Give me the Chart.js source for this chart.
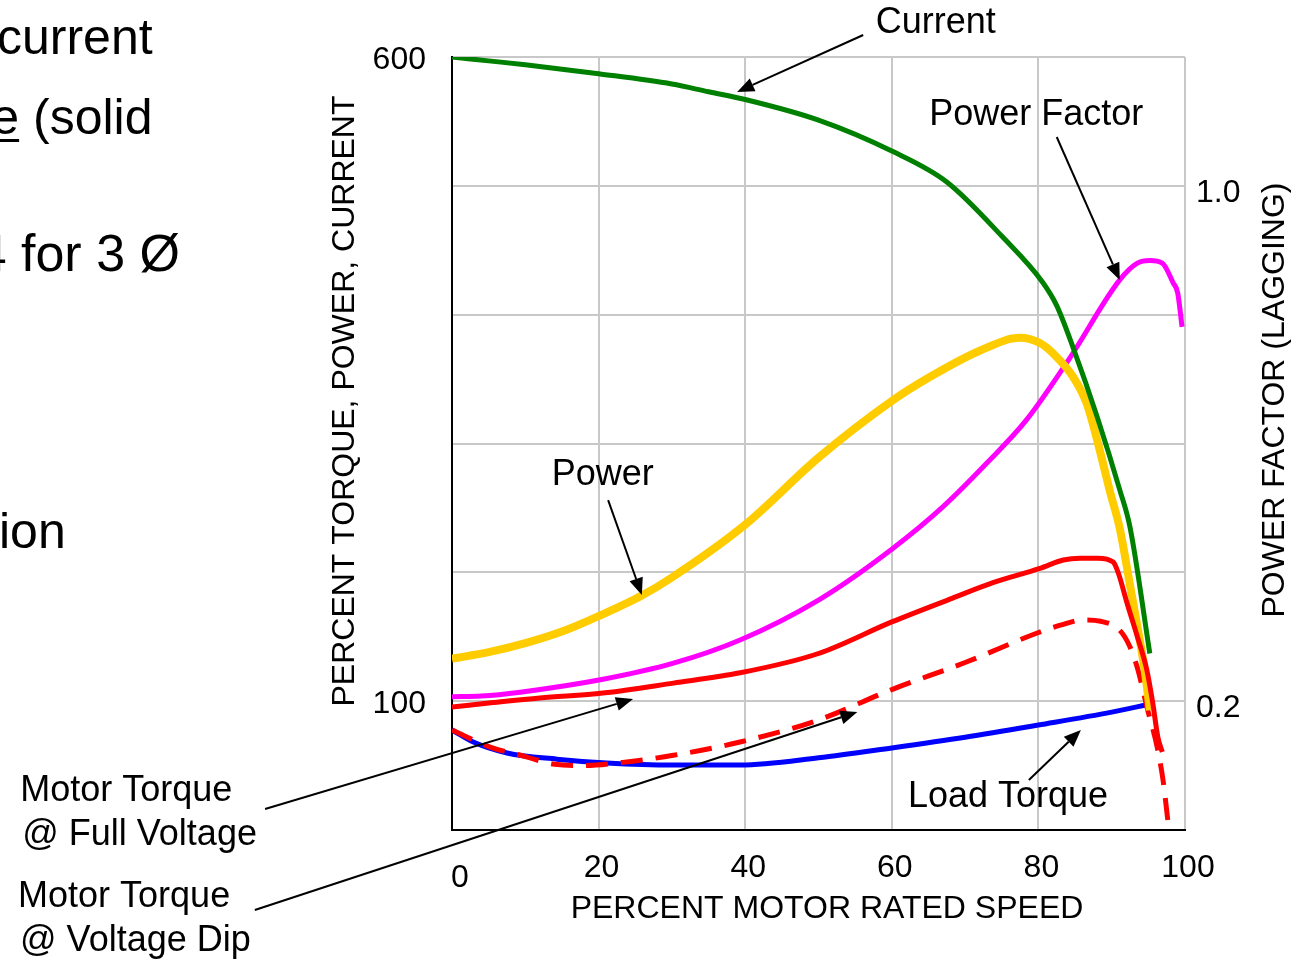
<!DOCTYPE html>
<html>
<head>
<meta charset="utf-8">
<script src="https://cdn.jsdelivr.net/npm/chart.js@4"></script>
<style>
  html, body { margin: 0; padding: 0; background: #fff; overflow: hidden; }
  #wrap { position: relative; width: 1314px; height: 960px; }
</style>
</head>
<body>
<div id="wrap"><canvas id="myChart"></canvas></div>
<script>
// percent motor rated speed for each curve, with the values
const speedCurrent = [0, 5, 10, 20, 30, 35, 40, 50, 60, 67.5, 75, 80.6, 82.5, 84.7, 88, 91.1, 92.5, 95.2];
const current = [600, 597, 594, 587, 579, 573, 567, 551, 527, 503, 461, 425, 407, 375, 321, 264, 235, 137];

const speedPower = [0, 5, 10, 15, 20, 25.9, 30, 40, 50, 60, 65, 72, 77.5, 80.2, 82, 84.7, 86.6, 88, 89.8, 91.1, 92.5, 93.5, 94.5, 95.2];
const power = [133, 138, 145, 154, 166, 182, 196, 237, 289, 333, 351, 372, 382, 378, 370, 352, 331, 303, 262, 234, 190, 158, 124, 93];

const speedPF = [0, 4, 9.3, 20.6, 30.2, 39.3, 50, 60, 67, 73, 78.4, 84.3, 91.1, 93.5, 95.2, 96.9, 98.4, 99, 99.6];
const powerFactor = [0.207, 0.208, 0.214, 0.234, 0.259, 0.295, 0.357, 0.436, 0.502, 0.57, 0.637, 0.733, 0.854, 0.88, 0.884, 0.88, 0.849, 0.834, 0.781];

const speedFull = [0, 5, 12, 20.6, 30.2, 39.3, 50, 60, 68.3, 73.8, 80.2, 83.4, 85.7, 88.1, 90.2, 90.9, 92.1, 93.5, 94.8, 95.6, 96.3, 96.9];
const torqueFull = [95.5, 98.5, 102.5, 106.3, 114, 122, 137, 161.5, 180, 192, 203, 209.6, 211, 211, 208, 199.5, 176, 150, 124, 98.6, 72, 60.5];

const speedDip = [0, 5.2, 10, 14, 18, 23.3, 30.2, 39.3, 50, 60, 70, 80.2, 83, 86.1, 88.5, 91.1, 92.5, 93.6, 94.8, 96.2, 97, 97.7];
const torqueDip = [77.6, 64.4, 57, 51, 50, 52.5, 58, 68.3, 85.4, 109, 130, 153.7, 159, 163, 162, 155, 142, 124, 95.5, 64.4, 38.8, 5.4];

const speedLoad = [0, 2.9, 7.5, 14.3, 21.1, 30.2, 39.3, 50, 60, 70, 80, 90, 95.4];
const torqueLoad = [77.6, 68.3, 59.8, 55, 52, 50.4, 50.4, 56, 63.7, 72, 81.5, 91.5, 98];

// tick labels that are shown
const leftTicks = [100, 600];
const rightTicks = [0.2, 1.0];

// callouts, in data units of the speed axis and the left axis
const callouts = [
	{ lines: ["Current"], at: [57.8, 626.4], from: [56.1, 617.1], to: [38.9, 572.9] },
	{ lines: ["Power Factor"], at: [65.1, 555], from: [82.5, 537.9], to: [91.1, 426.9] },
	{ lines: ["Power"], at: [13.6, 275.6], from: [21.3, 256.1], to: [25.9, 182.4] },
	{ lines: ["Motor Torque", "@ Full Voltage"], at: [-58.9, 30.3], from: [-25.5, 16.3], to: [24.7, 101.7] },
	{ lines: ["Motor Torque", "@ Voltage Dip"], at: [-59.2, -52], from: [-26.9, -62.1], to: [55.3, 91.6] },
	{ lines: ["Load Torque"], at: [62.2, 25.6], from: [78.7, 38.8], to: [85.8, 77.6] },
];

const FONT = '"Liberation Sans", Arial, sans-serif';
Chart.defaults.font.family = FONT;
Chart.defaults.color = "#000";

function pairs(xs, ys) {
	return xs.map((x, i) => ({ x: x, y: ys[i] }));
}

function drawArrow(ctx, a, b) {
	const ang = Math.atan2(b[1] - a[1], b[0] - a[0]);
	const len = 17, half = 7;
	const bx = b[0] - len * Math.cos(ang);
	const by = b[1] - len * Math.sin(ang);
	ctx.beginPath();
	ctx.moveTo(a[0], a[1]);
	ctx.lineTo(bx, by);
	ctx.stroke();
	ctx.beginPath();
	ctx.moveTo(b[0], b[1]);
	ctx.lineTo(bx + half * Math.sin(ang), by - half * Math.cos(ang));
	ctx.lineTo(bx - half * Math.sin(ang), by + half * Math.cos(ang));
	ctx.closePath();
	ctx.fill();
}

const extras = {
	id: "extras",
	afterDraw(chart) {
		const ctx = chart.ctx;
		const sx = chart.scales.x, sy = chart.scales.y;
		const p = (v) => [sx.getPixelForValue(v[0]), sy.getPixelForValue(v[1])];
		ctx.save();
		ctx.fillStyle = "#000";
		ctx.strokeStyle = "#000";
		ctx.lineWidth = 2;

		// callouts
		ctx.font = "36px " + FONT;
		ctx.textAlign = "left";
		ctx.textBaseline = "middle";
		callouts.forEach((c) => {
			const t = p(c.at);
			c.lines.forEach((line, i) => ctx.fillText(line, t[0] + (i ? 2 : 0), t[1] + i * 44));
			drawArrow(ctx, p(c.from), p(c.to));
		});

		// axis titles
		ctx.font = "32px " + FONT;
		ctx.textAlign = "center";
		ctx.fillText("PERCENT MOTOR RATED SPEED", 827, 909);
		ctx.save();
		ctx.translate(345, 401);
		ctx.rotate(-Math.PI / 2);
		ctx.fillText("PERCENT TORQUE, POWER, CURRENT", 0, 0);
		ctx.restore();
		ctx.save();
		ctx.translate(1275, 400);
		ctx.rotate(-Math.PI / 2);
		ctx.fillText("POWER FACTOR (LAGGING)", 0, 0);
		ctx.restore();

		// the zero of the speed axis sits lower than the other labels
		ctx.font = "32px " + FONT;
		ctx.fillText("0", sx.getPixelForValue(0) + 8, 878);

		// slide text cut off at the left edge
		ctx.font = "50px " + FONT;
		ctx.textAlign = "left";
		ctx.textBaseline = "alphabetic";
		ctx.fillText("current", -3, 54);
		const ex = 33 - ctx.measureText("e ").width;
		ctx.fillText("e (solid", ex, 134);
		ctx.fillRect(ex, 139, ctx.measureText("e").width, 3);
		ctx.font = "52px " + FONT;
		ctx.fillText("4 for 3 Ø", 21 - ctx.measureText("4 ").width, 271);
		ctx.font = "50px " + FONT;
		ctx.fillText("ion", -1, 548);
		ctx.restore();
	},
};

const gridColor = "#c8c8c8";

new Chart(document.getElementById("myChart"), {
	type: "line",
	data: {
		datasets: [
			{ label: "Current", data: pairs(speedCurrent, current), borderColor: "#008000", borderWidth: 5, yAxisID: "y", order: 1 },
			{ label: "Motor Torque @ Full Voltage", data: pairs(speedFull, torqueFull), borderColor: "#ff0000", borderWidth: 5, yAxisID: "y", order: 2 },
			{ label: "Power", data: pairs(speedPower, power), borderColor: "#ffcc00", borderWidth: 8, yAxisID: "y", order: 3 },
			{ label: "Power Factor", data: pairs(speedPF, powerFactor), borderColor: "#ff00ff", borderWidth: 5, yAxisID: "y1", order: 4 },
			{ label: "Motor Torque @ Voltage Dip", data: pairs(speedDip, torqueDip), borderColor: "#ff0000", borderWidth: 5, borderDash: [22, 13], yAxisID: "y", order: 5 },
			{ label: "Load Torque", data: pairs(speedLoad, torqueLoad), borderColor: "#0000ff", borderWidth: 5, yAxisID: "y", order: 6 },
		],
	},
	options: {
		responsive: true,
		maintainAspectRatio: false,
		animation: false,
		layout: { padding: { top: 57, left: 0, right: 0, bottom: 0 } },
		elements: {
			point: { radius: 0 },
			line: { cubicInterpolationMode: "monotone", fill: false },
		},
		plugins: {
			legend: { display: false },
			tooltip: { enabled: false },
		},
		scales: {
			x: {
				type: "linear",
				min: 0,
				max: 100,
				afterFit: (s) => { s.height = 130; },
				ticks: {
					stepSize: 20,
					padding: 19,
					labelOffset: 3,
					font: { size: 32 },
					callback: (v) => (v === 0 ? "" : v),
				},
				grid: { color: gridColor, lineWidth: 2, drawTicks: false },
				border: { display: true, color: "#000", width: 2 },
			},
			y: {
				position: "left",
				min: 0,
				max: 600,
				afterFit: (s) => { s.width = 452; },
				ticks: {
					stepSize: 100,
					padding: 26,
					labelOffset: 3,
					font: { size: 32 },
					callback: (v) => (leftTicks.includes(v) ? v : ""),
				},
				grid: { color: gridColor, lineWidth: 2, drawTicks: false },
				border: { display: true, color: "#000", width: 2 },
			},
			y1: {
				position: "right",
				min: 0,
				max: 1.2,
				afterFit: (s) => { s.width = 129; },
				ticks: {
					stepSize: 0.2,
					padding: 11,
					labelOffset: 7,
					font: { size: 32 },
					callback: (v) => (rightTicks.some((t) => Math.abs(t - v) < 1e-6) ? v.toFixed(1) : ""),
				},
				grid: { display: false, drawTicks: false },
				border: { display: false },
			},
		},
	},
	plugins: [extras],
});
</script>
</body>
</html>
